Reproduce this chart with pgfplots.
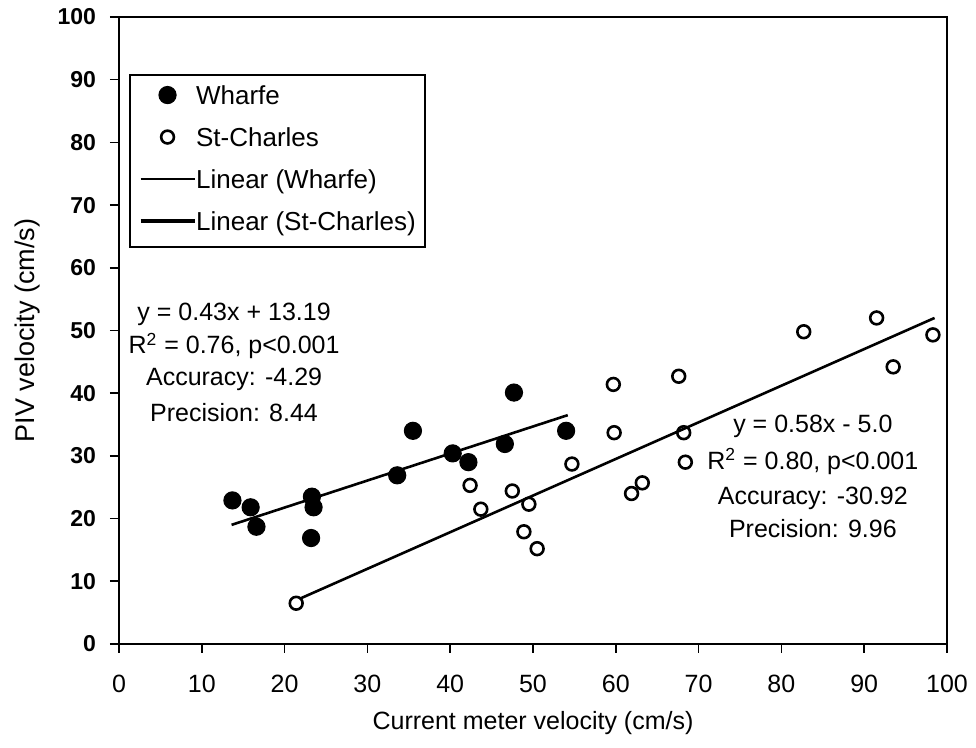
\documentclass[border=0pt]{standalone}
\usepackage{pgfplots}
\pgfplotsset{compat=1.18}
\usepackage{pgfplotstable}
\usepackage{fontspec}
\setmainfont{Liberation Sans}

% Wharfe measurements
\pgfplotstableread{
x y
13.7 22.9
15.9 21.8
16.6 18.7
23.3 23.5
23.5 21.8
23.2 16.9
33.6 26.9
35.5 34.0
40.3 30.4
42.2 29.0
46.6 31.9
47.7 40.1
54.0 34.0
}\wharfe

% St-Charles measurements
\pgfplotstableread{
x y
21.4 6.5
42.4 25.3
43.7 21.5
47.5 24.4
49.5 22.3
48.9 17.9
50.5 15.2
54.7 28.7
59.7 41.4
59.8 33.7
61.9 24.0
63.2 25.7
67.6 42.7
68.2 33.7
68.4 29.0
82.7 49.8
91.5 52.0
93.5 44.2
98.3 49.3
}\stcharles

\newcommand{\fs}{\fontsize{12.5}{15}\selectfont}
\tikzset{annot/.style={font=\fs, inner sep=0pt, text height=9pt, text depth=0pt, anchor=center}}
\pgfplotsset{
    markleg/.style={legend image code/.code={\draw[##1] plot coordinates {(13.5pt,1.5pt)};}},
    lineleg/.style={legend image code/.code={\draw[black, line width=#1] (0pt,1.5pt) -- (27pt,1.5pt);}},
}

\begin{document}
\begin{tikzpicture}
\path[use as bounding box] (-59.5pt,-52pt) rectangle (428.5pt,322pt);
\begin{axis}[
    at={(0,0)}, anchor=south west,
    scale only axis,
    width=414pt, height=313.5pt,
    xmin=0, xmax=100, ymin=0, ymax=100,
    xtick={0,10,...,100}, ytick={0,10,...,100},
    xtick pos=bottom, ytick pos=left,
    tick align=outside,
    major tick length=4.5pt,
    axis line style={line width=1pt},
    every tick/.style={black, line width=0.8pt},
    xticklabel style={font=\fs, yshift=-7.5pt},
    yticklabel style={font=\bfseries\fontsize{11.5}{13}\selectfont, xshift=-3.5pt},
    /pgf/number format/assume math mode=true,
    xlabel={Current meter velocity (cm/s)},
    ylabel={PIV velocity (cm/s)},
    xlabel style={font=\fs, at={(axis description cs:0.5,-0.126)}, anchor=center},
    ylabel style={font=\fontsize{13.5}{15}\selectfont, at={(axis description cs:-0.111,0.5)}, anchor=center},
    legend style={at={(axis cs:1.2,90.9)}, anchor=north west,
        draw=black, line width=1pt, font=\fontsize{13}{15}\selectfont,
        inner xsep=4.5pt, inner ysep=5.5pt, row sep=9pt,
        cells={anchor=west},
        nodes={inner sep=0pt, text height=9pt, text depth=3pt}},
    legend cell align=left,
]
\addplot[only marks, mark=*, mark size=4.3pt, black, line width=0.5pt, markleg]
    table[x=x, y=y] {\wharfe};
\addlegendentry{Wharfe}
\addplot[only marks, mark=o, mark size=3.2pt, black, line width=1.3pt,
    mark options={fill=white}, markleg]
    table[x=x, y=y] {\stcharles};
\addlegendentry{St-Charles}
\addplot[black, line width=1.3pt, lineleg=1pt]
    coordinates {(13.6,19.0) (54.2,36.5)};
\addlegendentry{Linear (Wharfe)}
\addplot[black, line width=1.3pt, lineleg=1.6pt]
    coordinates {(21.8,7.2) (98.5,52.0)};
\addlegendentry{Linear (St-Charles)}

\node[annot] at (axis cs:13.9,52.95) {y = 0.43x + 13.19};
\node[annot] at (axis cs:13.9,47.7) {R\textsuperscript{2} = 0.76, p<0.001};
\node[annot] at (axis cs:13.9,42.6) {Accuracy: -4.29};
\node[annot] at (axis cs:13.9,37.0) {Precision: 8.44};

\node[annot] at (axis cs:83.8,35.1) {y = 0.58x - 5.0};
\node[annot] at (axis cs:83.8,29.3) {R\textsuperscript{2} = 0.80, p<0.001};
\node[annot] at (axis cs:83.8,23.7) {Accuracy: -30.92};
\node[annot] at (axis cs:83.8,18.4) {Precision: 9.96};
\end{axis}
\end{tikzpicture}
\end{document}
